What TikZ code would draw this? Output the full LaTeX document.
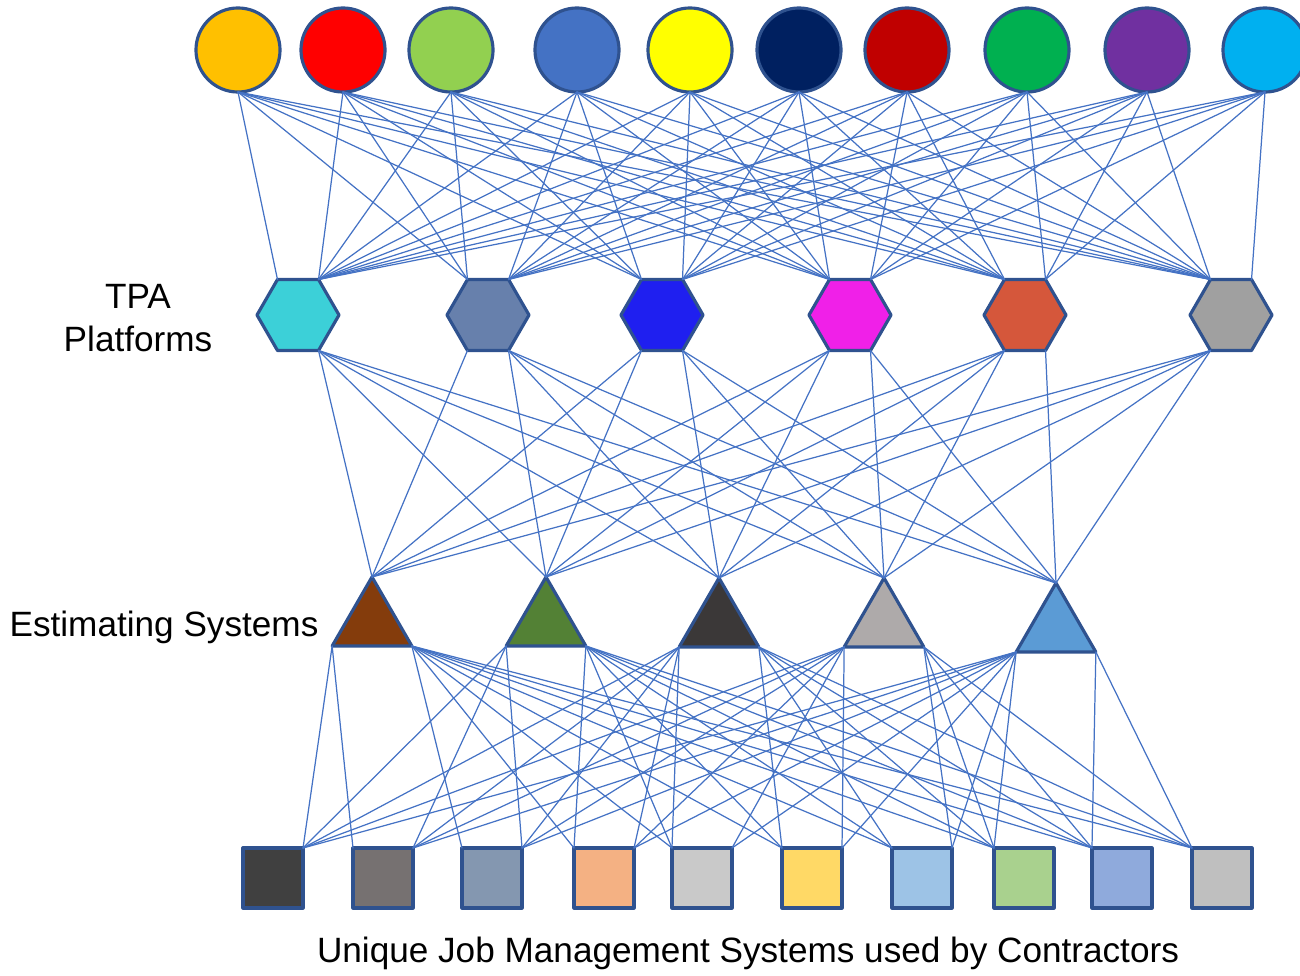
\documentclass[tikz,border=0pt]{standalone}
\usepackage{fontspec}
\setmainfont{Liberation Sans}
\usetikzlibrary{shapes.geometric}
\definecolor{linkblue}{HTML}{4472C4}
\definecolor{edge}{HTML}{2F528F}
\def\circs{1/238/FFC000,2/343/FF0000,3/451/92D050,4/577/4472C4,5/690/FFFF00,6/799/002060,7/907/C00000,8/1027/00B050,9/1147/7030A0,10/1265/00B0F0}
\def\hexs{1/298/3CD0D8,2/488/6780AC,3/662/1F1FF0,4/850/F020E8,5/1025/D5573B,6/1231/A0A0A0}
\def\tris{1/372/623/843C0C,2/546/623/538135,3/719/624/3B3838,4/884/624/AEAAAA,5/1056/629/5B9BD5}
\def\sqs{1/273/404040,2/383/767171,3/492/8497B0,4/604/F4B183,5/702/C9C9C9,6/812/FFD966,7/922/9DC3E6,8/1024/A9D18E,9/1122/8FAADC,10/1222/BFBFBF}
\begin{document}
\begin{tikzpicture}[x=.01cm, y=-.01cm, font=\fontsize{10}{12.2}\selectfont, line join=round, line cap=round,
	shp/.style={draw=edge, line width=.9pt, inner sep=0pt, outer sep=0pt},
	circ/.style={shp, circle, minimum size=.84cm},
	hexa/.style={shp, regular polygon, regular polygon sides=6, minimum size=.82cm},
	tri/.style={shp, regular polygon, regular polygon sides=3, minimum size=.92cm},
	sq/.style={shp, rectangle, minimum size=.6cm},
	link/.style={draw=linkblue, line width=.35pt}]
	\useasboundingbox (0,0) rectangle (1300,976);
	% shapes
	\foreach \i/\x/\c in \circs {\definecolor{tmp}{HTML}{\c} \node[circ, fill=tmp] (c\i) at (\x,50) {};}
	\foreach \i/\x/\c in \hexs {\definecolor{tmp}{HTML}{\c} \node[hexa, fill=tmp] (h\i) at (\x,315) {};}
	\foreach \i/\x/\y/\c in \tris {\definecolor{tmp}{HTML}{\c} \node[tri, fill=tmp] (t\i) at (\x,\y) {};}
	\foreach \i/\x/\c in \sqs {\definecolor{tmp}{HTML}{\c} \node[sq, fill=tmp] (s\i) at (\x,878) {};}
	% links
	\foreach \i/\cx/\c in \circs
		\foreach \j/\hx/\d in \hexs {
			\ifnum\cx<\hx \def\a{120}\else\def\a{60}\fi
			\draw[link] (c\i.south) -- (h\j.\a);
		}
	\foreach \j/\hx/\d in \hexs
		\foreach \t/\tx/\ty/\c in \tris {
			\ifnum\tx<\hx \def\a{240}\else\def\a{300}\fi
			\draw[link] (h\j.\a) -- (t\t.corner 1);
		}
	\foreach \t/\tx/\ty/\c in \tris
		\foreach \s/\sx/\d in \sqs {
			\pgfmathtruncatemacro\tl{\sx<\tx+20}
			\pgfmathsetmacro\kx{\tl==1 ? \tx-40 : \tx+40}
			\pgfmathtruncatemacro\sl{abs(\sx-30-\kx)<abs(\sx+30-\kx)}
			\ifnum\tl=1 \def\a{corner 2}\else\def\a{corner 3}\fi
			\ifnum\sl=1 \def\b{north west}\else\def\b{north east}\fi
			\draw[link] (t\t.\a) -- (s\s.\b);
		}
	% labels
	\node[align=center] (tpa) at (138,318) {TPA\\Platforms};
	\node (est) at (164,627) {Estimating Systems};
	\node (jms) at (748,953) {Unique Job Management Systems used by Contractors};
\end{tikzpicture}
\end{document}
